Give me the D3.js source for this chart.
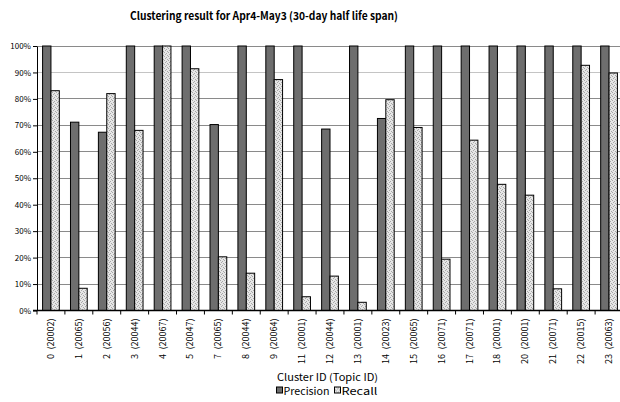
<!DOCTYPE html>
<html><head><meta charset="utf-8">
<script src="https://cdn.jsdelivr.net/npm/d3@7"></script>
<style>body{margin:0;background:#fff}svg{display:block}text{font-family:"Noto Sans CJK JP","DejaVu Sans",sans-serif}</style>
</head><body><svg id="c" width="620" height="402"></svg>
<script>
const clusters = ["0","1","2","3","4","5","7","8","9","11","12","13","14","15","16","17","18","20","21","22","23"];
const topics = ["20002","20065","20056","20044","20067","20047","20065","20044","20064","20001","20044","20001","20023","20065","20071","20071","20001","20001","20071","20015","20063"];
const precision = [100,71.2,67.4,100,100,100,70.3,100,100,100,68.6,100,72.6,100,100,100,100,100,100,100,100];
const recall = [83.1,8.4,82.0,68.1,100,91.4,20.3,14.1,87.3,5.2,13.0,3.1,79.7,69.2,19.4,64.4,47.7,43.6,8.2,92.7,89.8];
const yTicks = [0,10,20,30,40,50,60,70,80,90,100];
const seriesNames = ["Precision","Recall"];
const title = "Clustering result for Apr4-May3 (30-day half life span)";
const xTitle = "Cluster ID (Topic ID)";

const svg = d3.select("#c");
const defs = svg.append("defs");
const pat = defs.append("pattern").attr("id","dots").attr("patternUnits","userSpaceOnUse").attr("width",4).attr("height",4);
pat.append("rect").attr("width",4).attr("height",4).attr("fill","#e6e6e6");
[[0,0],[2,1],[1,2],[3,3]].forEach(([px,py])=>pat.append("rect").attr("x",px).attr("y",py).attr("width",1).attr("height",1).attr("fill","#a8a8a8"));

const mL = 37, mR = 623, mT = 46, mB = 310.5;
const x = d3.scaleBand().domain(clusters).range([mL,mR]).paddingInner(0).paddingOuter(0);
const y = d3.scaleLinear().domain([0,100]).range([mB,mT]);
const bw = x.bandwidth()*0.3;

// gridlines
svg.append("g").selectAll("line").data(yTicks.filter(d=>d>0)).join("line")
  .attr("x1",mL).attr("x2",mR).attr("y1",d=>y(d)).attr("y2",d=>y(d))
  .attr("stroke",d=>d===90?"#c4c4c4":"#8a8a8a").attr("stroke-width",1).attr("shape-rendering","crispEdges");

// bars
const g = svg.append("g");
clusters.forEach((c,i)=>{
  const cx = x(c)+x.bandwidth()/2;
  g.append("rect").attr("x",cx-bw).attr("y",y(precision[i])).attr("width",bw).attr("height",y(0)-y(precision[i]))
    .attr("fill","#6e6e6e").attr("stroke","#000").attr("stroke-width",1);
  g.append("rect").attr("x",cx).attr("y",y(recall[i])).attr("width",bw).attr("height",y(0)-y(recall[i]))
    .attr("fill","url(#dots)").attr("stroke","#000").attr("stroke-width",1);
});

// y axis
const ya = svg.append("g").attr("transform",`translate(${mL},0)`)
  .call(d3.axisLeft(y).tickValues(yTicks).tickFormat(d=>d+"%").tickSize(4).tickSizeOuter(0));
ya.select(".domain").attr("stroke","#000");
ya.selectAll("text").attr("font-size","8px").attr("fill","#000").attr("x",-6);

// x axis
const xa = svg.append("g").attr("transform",`translate(0,${mB})`);
xa.append("line").attr("x1",mL-4).attr("x2",mR).attr("y1",0).attr("y2",0).attr("stroke","#000").attr("stroke-width",1.5);
xa.selectAll(".tk").data(clusters).join("line").attr("class","tk")
  .attr("x1",d=>x(d)).attr("x2",d=>x(d)).attr("y1",0).attr("y2",4).attr("stroke","#000");
xa.selectAll(".lb").data(clusters).join("text").attr("class","lb")
  .attr("transform",(d)=>`translate(${x(d)+x.bandwidth()/2+3},8) rotate(-90)`)
  .attr("text-anchor","end").attr("font-size","9px").attr("fill","#000")
  .text((d,i)=>`${d}\u2002(${topics[i]})`);

// title
svg.append("text").attr("x",264).attr("y",20).attr("text-anchor","middle").attr("font-size","11px").attr("font-weight","bold")
  .attr("textLength",268).attr("lengthAdjust","spacingAndGlyphs").text(title);

// x title
svg.append("text").attr("x",277).attr("y",381).attr("font-size","10px").attr("fill","#000")
  .attr("textLength",101).attr("lengthAdjust","spacingAndGlyphs").text(xTitle);

// legend
const lg = svg.append("g").attr("transform","translate(276,386.5)");
lg.append("rect").attr("x",0.5).attr("y",0.5).attr("width",6).attr("height",6).attr("fill","#6e6e6e").attr("stroke","#000");
lg.append("text").attr("x",7.5).attr("y",8).attr("font-size","10px").attr("textLength",46).attr("lengthAdjust","spacingAndGlyphs").text(seriesNames[0]);
lg.append("rect").attr("x",58.5).attr("y",0.5).attr("width",6).attr("height",6).attr("fill","url(#dots)").attr("stroke","#000");
lg.append("text").attr("x",65.5).attr("y",8).attr("font-size","10px").attr("textLength",36).attr("lengthAdjust","spacingAndGlyphs").text(seriesNames[1]);
</script></body></html>
